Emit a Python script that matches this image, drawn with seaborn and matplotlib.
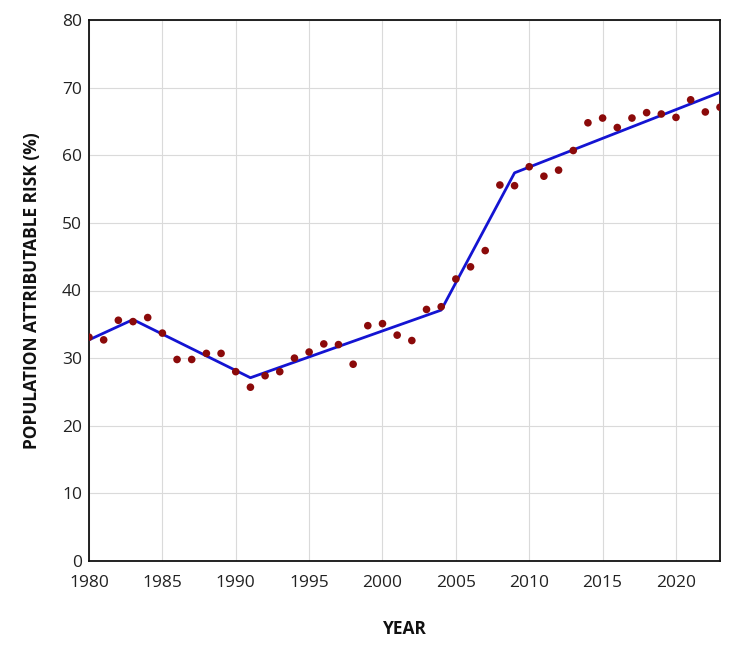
import matplotlib
matplotlib.use("Agg")
import matplotlib.pyplot as plt
import seaborn as sns
import pandas as pd

years = list(range(1980, 2024))
observed = [33.1, 32.7, 35.6, 35.4, 36.0, 33.7, 29.8, 29.8, 30.7, 30.7,
            28.0, 25.7, 27.4, 28.0, 30.0, 30.9, 32.1, 32.0, 29.1, 34.8,
            35.1, 33.4, 32.6, 37.2, 37.6, 41.7, 43.5, 45.9, 55.6, 55.5,
            58.3, 56.9, 57.8, 60.7, 64.8, 65.5, 64.1, 65.5, 66.3, 66.1,
            65.6, 68.2, 66.4, 67.1]
joint_years = [1980, 1983, 1991, 2004, 2009, 2023]
joint_values = [32.7, 35.7, 27.1, 37.1, 57.4, 69.3]
x_ticks = [1980, 1985, 1990, 1995, 2000, 2005, 2010, 2015, 2020]
y_ticks = [0, 10, 20, 30, 40, 50, 60, 70, 80]

obs_df = pd.DataFrame({"year": years, "par": observed})
fit_df = pd.DataFrame({"year": joint_years, "par": joint_values})

sns.set_theme(style="whitegrid")
plt.rcParams["font.family"] = ["Open Sans", "DejaVu Sans"]

fig = plt.figure(figsize=(7.5, 6.56), dpi=100)
ax = fig.add_axes([89/750, 1 - 561/656, (720 - 89)/750, (561 - 20)/656])

sns.lineplot(data=fit_df, x="year", y="par", ax=ax, color="#1414d2",
             linewidth=2.0, zorder=3)
sns.scatterplot(data=obs_df, x="year", y="par", ax=ax, color="#8b0a0a",
                s=30, edgecolor="none", zorder=4)

ax.set_xlim(1980, 2023)
ax.set_ylim(0, 80)
ax.set_xticks(x_ticks)
ax.set_yticks(y_ticks)
ax.tick_params(axis="both", length=0, labelsize=12.5, colors="#222222", pad=5)
ax.tick_params(axis="x", pad=10)
ax.grid(True, color="#dadada", linewidth=0.8)
for sp in ax.spines.values():
    sp.set_visible(True)
    sp.set_color("#111111")
    sp.set_linewidth(1.3)

ax.set_xlabel("YEAR", fontsize=12.5, fontweight="bold", color="#111111", labelpad=21)
ax.set_ylabel("POPULATION ATTRIBUTABLE RISK (%)", fontsize=12.5, fontweight="bold",
              color="#111111", labelpad=15)

fig.savefig("out.png", dpi=100)
